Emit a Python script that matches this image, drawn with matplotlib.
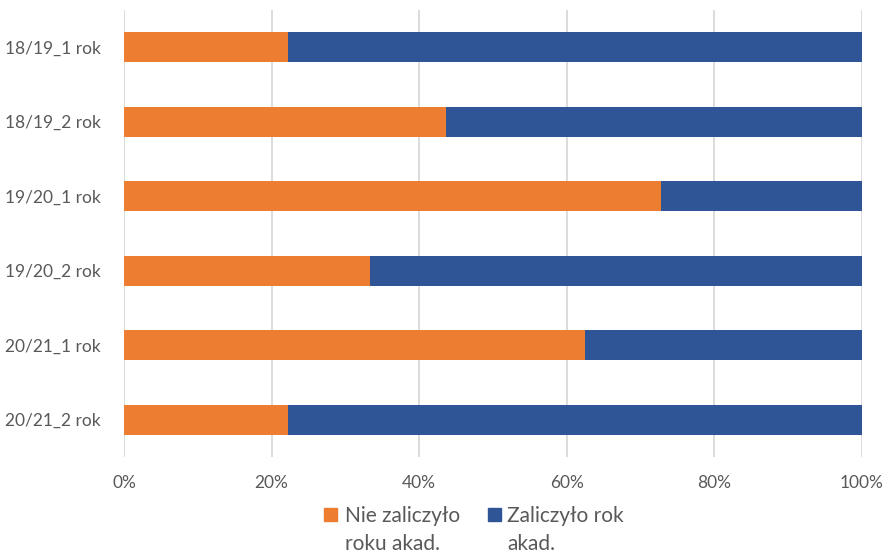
import numpy as np
import matplotlib
matplotlib.use("Agg")
import matplotlib.pyplot as plt
from matplotlib.patches import Rectangle
from matplotlib.ticker import FuncFormatter

plt.rcParams['font.family'] = ['Lato', 'DejaVu Sans']

# ============================================================================ #
# DANE
# ============================================================================ #

kategorie = ["18/19_1 rok", "18/19_2 rok", "19/20_1 rok",
             "19/20_2 rok", "20/21_1 rok", "20/21_2 rok"]

# udział (%) studentów, którzy nie zaliczyli roku
nie_zaliczylo = [22.2, 43.6, 72.7, 33.4, 62.5, 22.2]

# udział (%) studentów, którzy zaliczyli rok
zaliczylo = [100 - v for v in nie_zaliczylo]

etykiety_serii = ["Nie zaliczyło\nroku akad.", "Zaliczyło rok\nakad."]
kolory = ["#ED7D31", "#2F5597"]

W, H = 888, 554

# ============================================================================ #
# WYKRES
# ============================================================================ #

fig = plt.figure(figsize=(W / 100, H / 100), dpi=100)
ax = fig.add_axes([124 / W, 1 - 457 / H, (862 - 124) / W, 447 / H])

y = np.arange(len(kategorie))

ax.barh(y, nie_zaliczylo, height=0.4, color=kolory[0], zorder=3)
ax.barh(y, zaliczylo, left=nie_zaliczylo, height=0.4, color=kolory[1], zorder=3)

ax.set_xlim(0, 100)
ax.set_ylim(len(kategorie) - 0.5, -0.5)
ax.set_yticks(y)
ax.set_yticklabels(kategorie)
ax.set_xticks(np.arange(0, 101, 20))
ax.xaxis.set_major_formatter(FuncFormatter(lambda v, p: f"{v:.0f}%"))

ax.grid(axis="x", color="#D9D9D9", linewidth=1.3, zorder=0)
for s in ax.spines.values():
    s.set_visible(False)

ax.tick_params(axis="both", length=0, labelsize=12.5, colors="#595959")
ax.tick_params(axis="y", pad=17)
ax.tick_params(axis="x", pad=13)

# ---------------------------------------------------------------------
# LEGENDA (ręcznie, tekst w dwóch liniach jak w Excelu)
# ---------------------------------------------------------------------

pozycje_kw = [324, 488]     # lewa krawędź kwadratu (px)
pozycje_txt = [345, 507]    # początek tekstu (px)

for kolor, etykieta, xk, xt in zip(kolory, etykiety_serii, pozycje_kw, pozycje_txt):
    fig.patches.append(Rectangle((xk / W, 1 - 521 / H), 13 / W, 13 / H,
                                 transform=fig.transFigure, color=kolor,
                                 figure=fig))
    # va="baseline" odnosi się do ostatniej linii tekstu
    fig.text(xt / W, 1 - 549.5 / H, etykieta, fontsize=15, color="#595959",
             ha="left", va="baseline", linespacing=1.5)

fig.savefig("out.png", dpi=100)
